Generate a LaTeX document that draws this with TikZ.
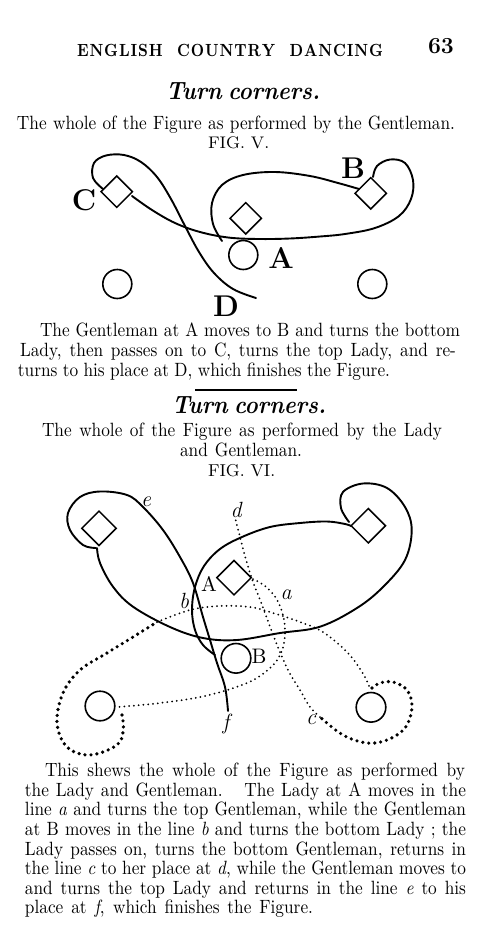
\documentclass[tikz,border=0pt]{standalone}
\usepackage{fontspec}
\usepackage{graphicx}
\usetikzlibrary{shapes.geometric}
\newcommand{\tl}[2]{\scalebox{0.9}[1]{\makebox[\dimexpr #1*10/9\relax][s]{#2}}}
\newcommand{\heavy}{\addfontfeature{FakeBold=0.5}}
\newcommand{\bodyf}{\fontsize{9.6}{11}\selectfont\heavy}
\begin{document}
\begin{tikzpicture}[x=0.5pt,y=-0.5pt,
  txt/.style={anchor=base west, inner sep=0pt, outer sep=0pt},
  ring/.style={circle, draw, line width=0.8pt, minimum size=14.5pt, inner sep=0pt},
  ringb/.style={circle, draw, line width=0.8pt, minimum size=14.8pt, inner sep=0pt},
  dia/.style={diamond, draw, line width=0.75pt, minimum size=16pt, inner sep=0pt},
  diab/.style={diamond, draw, line width=0.75pt, minimum size=17.5pt, inner sep=0pt},
  trail/.style={line width=0.95pt, line cap=round},
  fdot/.style={line width=1pt, line cap=round, dash pattern=on 0pt off 2.4pt},
  hdot/.style={line width=1.8pt, line cap=round, dash pattern=on 0pt off 3pt},
  biglab/.style={inner sep=0pt, font=\fontsize{15}{16}\selectfont\bfseries},
  romlab/.style={inner sep=0pt, font=\fontsize{10.5}{11}\selectfont\heavy},
  itlab/.style={inner sep=0pt, font=\fontsize{11}{12}\selectfont\itshape\heavy}]
\fill[white] (0,0) rectangle (500,947);
\useasboundingbox (0,0) rectangle (500,947);

% ---------- header ----------
\node[txt] (hdr) at (77,56.5) {\fontsize{8.8}{10}\selectfont\bfseries\scalebox{0.85}[1]{\makebox[180pt]{E\hfill N\hfill G\hfill L\hfill I\hfill S\hfill H\hspace{8pt}\hfill C\hfill O\hfill U\hfill N\hfill T\hfill R\hfill Y\hspace{8pt}\hfill D\hfill A\hfill N\hfill C\hfill I\hfill N\hfill G}}};
\node[txt] (pg) at (428,53.5) {\fontsize{11.5}{12}\selectfont\bfseries 63};

% ---------- Fig V titles ----------
\node[txt] (t1) at (166,100) {\fontsize{12.5}{14}\selectfont\itshape\bfseries\tl{70pt}{Turn corners.}};
\node[txt] (s1) at (17,130) {\bodyf\tl{219pt}{The whole of the Figure as performed by the Gentleman.}};
\node[txt] (f5) at (208,148.3) {\fontsize{8.4}{9}\selectfont\heavy FIG. V.};

% ---------- Fig V ----------
\node[dia] (c5) at (116.7,191.7) {};
\node[dia] (m5) at (245.7,218.3) {};
\node[dia] (b5) at (370.7,193.3) {};
\node[ring] (a5) at (243.3,255) {};
\node[ring] (l5) at (117.3,284) {};
\node[ring] (r5) at (372.3,284) {};
\node[biglab] (C5) at (84,200) {C};
\node[biglab] (B5) at (353,168.5) {B};
\node[biglab] (A5) at (281,258) {A};
\node[biglab] (D5) at (226,306) {D};

\draw[trail] plot[smooth, tension=0.6] coordinates {(222,241) (213,224) (212,203) (222,185) (243,175) (275,172) (310,176) (338,183) (359,189)};
\draw[trail] plot[smooth, tension=0.6] coordinates {(373,177) (377,166) (390,159.5) (405,163) (413,180) (411,199) (399,216) (375,228) (345,234) (320,236.5) (290,238.5) (258,239) (228,237.5) (200,232) (175,223) (152,210) (132,196)};
\draw[trail] plot[smooth, tension=0.6] coordinates {(103,189) (93,178) (94,163) (106,155.5) (124,155) (141,162) (157,177) (171,199) (185,226) (199,252) (214,273) (233,289) (256,298)};

% ---------- Paragraph 1 ----------
\node[txt] (p1a) at (40,336.5) {\bodyf\tl{210pt}{The Gentleman at A moves to B and turns the bottom}};
\node[txt] (p1b) at (20,356.5) {\bodyf\tl{218pt}{Lady, then passes on to C,  turns  the top Lady,  and re-}};
\node[txt] (p1c) at (18,376.5) {\bodyf\tl{186pt}{turns to his place at D, which finishes the Figure.}};
\draw[line width=1pt] (195,390) -- (297,390);

% ---------- Fig VI titles ----------
\node[txt] (t2) at (172,413) {\fontsize{12.5}{14}\selectfont\itshape\bfseries\tl{71.5pt}{Turn corners.}};
\node[txt] (s2a) at (42,436.7) {\bodyf\tl{200pt}{The whole of  the Figure as performed by the Lady}};
\node[txt] (s2b) at (180,456.7) {\bodyf\tl{61pt}{and Gentleman.}};
\node[txt] (f6) at (208,476.7) {\fontsize{8.6}{9}\selectfont\heavy FIG. VI.};

% ---------- Fig VI ----------
\node[diab] (tl6) at (99,528.3) {};
\node[diab] (m6) at (234,577.7) {};
\node[diab] (tr6) at (368.3,525.7) {};
\node[ringb] (b6) at (236,658.3) {};
\node[ringb] (bl6) at (100,706) {};
\node[ringb] (br6) at (371,707.3) {};
\node[itlab] (le) at (146,502) {e};
\node[itlab] (ld) at (236,510) {d};
\node[romlab] (lA) at (209,584) {A};
\node[itlab] (la) at (286,595) {a};
\node[itlab] (lb) at (184,601) {b};
\node[romlab] (lB) at (259,656.5) {B};
\node[itlab] (lf) at (226,724) {f};
\node[itlab] (lc) at (311,720) {c};

% solid trail
\draw[trail] plot[smooth, tension=0.6] coordinates {(215,655) (203,645) (195,630) (192,610) (195,587) (204,566) (220,549) (242,537) (270,527) (300,523) (327,521.5) (345,524) (351,526)};
\draw[trail] plot[smooth, tension=0.6] coordinates {(349,522) (341,508) (343,492) (363,483.5) (387,488) (405,507) (411.7,530) (405,560) (383,587) (357,608) (320,626.7) (280,633) (237,640) (203,638) (170,627) (133,606.7) (113,586.7) (100,563) (97,548)};
\draw[trail] plot[smooth, tension=0.6] coordinates {(96,548) (83,545) (70,530) (68,513) (80,497) (100,491.5) (127,495) (143,507) (163,530) (180,557) (193,583) (203,617) (210,640) (217,663) (225,687) (228,711)};

% dotted line a
\draw[fdot] plot[smooth, tension=0.6] coordinates {(253,579) (265,586) (276,598) (283,615) (285,635) (281,653) (270,668) (247,683) (205,696) (160,703) (118,707)};
% heavy loop round bottom-left circle, then fine line to bottom-right circle
\draw[hdot] plot[smooth, tension=0.6] coordinates {(122,715) (123.3,730) (117,745) (90,755) (67,747) (57,723) (63,693) (80,670) (107,653) (133,637) (157,622)};
\draw[fdot] plot[smooth, tension=0.6] coordinates {(157,622) (190,610) (220,606) (250,607) (273,613) (300,622) (323,632) (347,652) (362,672) (370,688)};
% heavy loop round bottom-right circle
\draw[hdot] plot[smooth, tension=0.6] coordinates {(372,688) (380,683) (393,682) (407,690) (412,707) (405,728) (387,740) (367,743) (343,735) (320,717)};
% line c - d
\draw[fdot] plot[smooth, tension=0.6] coordinates {(320,717) (310,707) (300,690) (289,672) (280,652) (272,632) (262,605) (252,579) (245,556) (240,537) (235,517)};

% ---------- Paragraph 2 ----------
\node[txt] (q1) at (45,776.7) {\bodyf\tl{210pt}{This shews the whole of the Figure as performed by}};
\node[txt] (q2) at (25,796) {\bodyf\tl{220.5pt}{the Lady and Gentleman.\hspace{6pt} The Lady at A moves in the}};
\node[txt] (q3) at (25,815.7) {\bodyf\tl{220.5pt}{line \textit{a} and turns the top Gentleman, while the Gentleman}};
\node[txt] (q4) at (25,835) {\bodyf\tl{220.5pt}{at B moves in the line \textit{b} and turns the bottom Lady ; the}};
\node[txt] (q5) at (25,855) {\bodyf\tl{220.5pt}{Lady passes on, turns the bottom Gentleman, returns in}};
\node[txt] (q6) at (25,874.3) {\bodyf\tl{220.5pt}{the line \textit{c} to her place at \textit{d}, while the Gentleman moves to}};
\node[txt] (q7) at (25,894) {\bodyf\tl{220.5pt}{and turns the top Lady and returns in the line \textit{e} to his}};
\node[txt] (q8) at (25,913.3) {\bodyf\tl{144pt}{place at \textit{f}, which finishes the Figure.}};
\end{tikzpicture}
\end{document}
